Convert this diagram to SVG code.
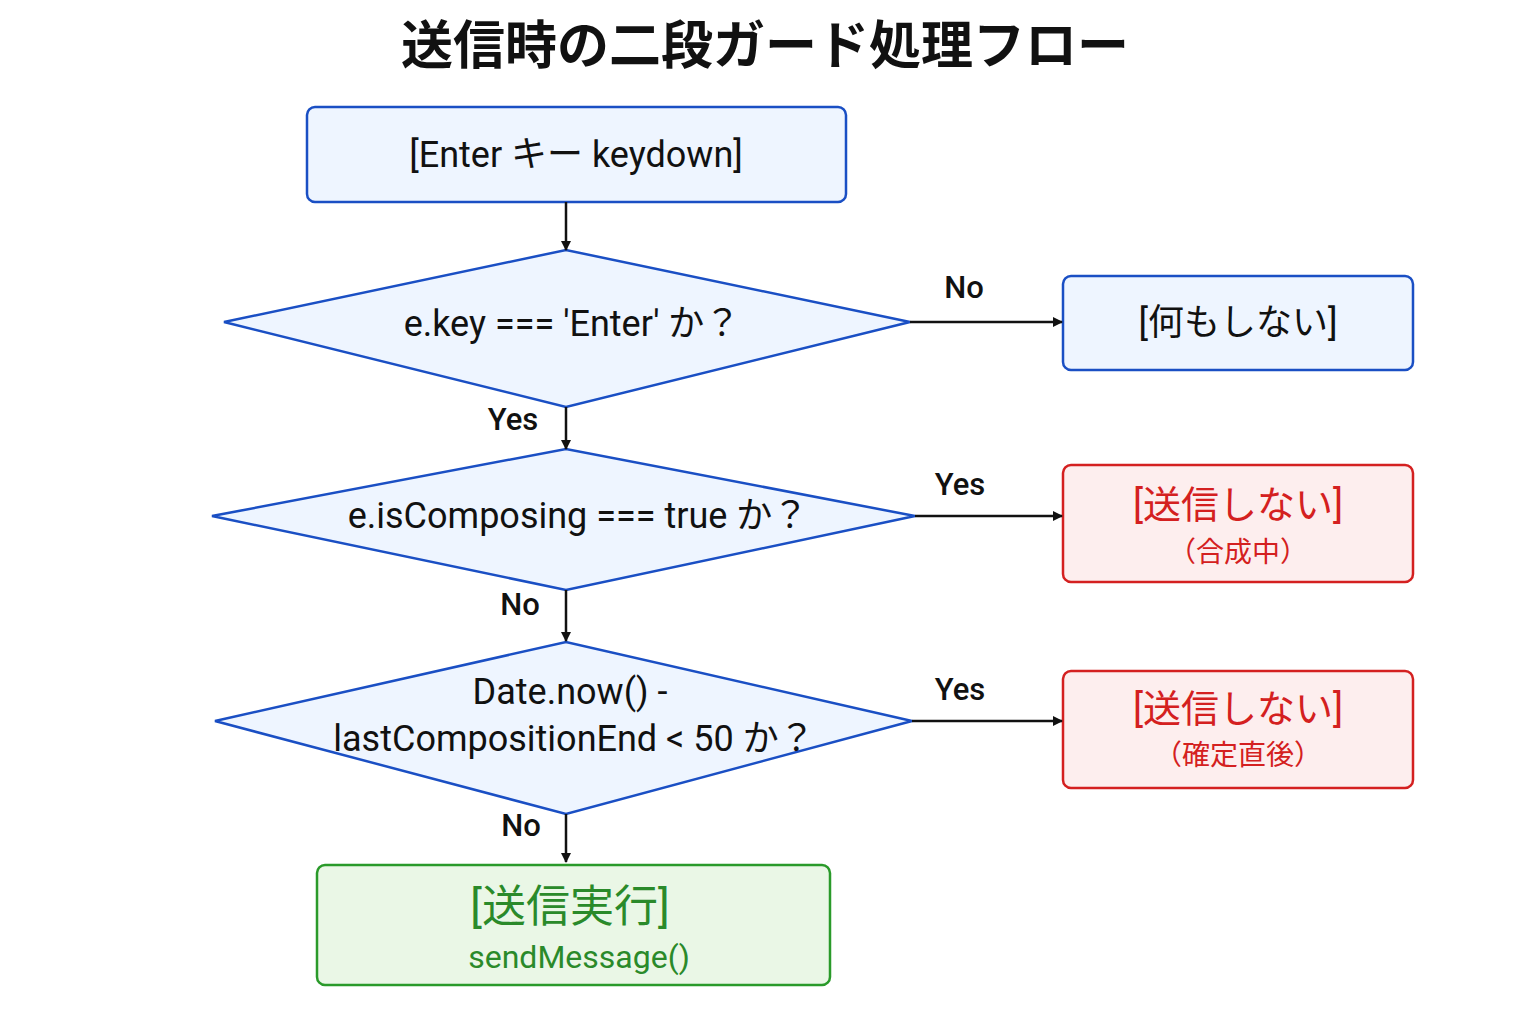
<svg xmlns="http://www.w3.org/2000/svg" width="1536" height="1024" viewBox="0 0 1536 1024">
<defs>
<marker id="arr" markerWidth="10" markerHeight="10" refX="9" refY="5" orient="auto" markerUnits="userSpaceOnUse" viewBox="0 0 10 10"><path d="M0,0 L10,5 L0,10 z" fill="#111"/></marker>
<style>
text{font-family:Roboto,"Noto Sans CJK JP",sans-serif;text-anchor:middle;dominant-baseline:middle}
.blue{fill:#eef5ff;stroke:#1a4fc4;stroke-width:2.5}
.red{fill:#fdeeee;stroke:#d42020;stroke-width:2.5}
.green{fill:#eaf7e6;stroke:#2a9a2a;stroke-width:2.5}
.t{font-size:36px;fill:#111}
.lbl{font-size:31px;fill:#111;font-weight:500}
.c line{stroke:#111;stroke-width:2.5;marker-end:url(#arr)}
</style>
</defs>
<rect width="1536" height="1024" fill="#fff"/>
<text x="765" y="50" font-size="52" font-weight="bold" fill="#111">送信時の二段ガード処理フロー</text>
<g id="start"><rect class="blue" x="307" y="107" width="539" height="95" rx="8"/><text class="t" x="576" y="157" font-size="40">[Enter キー keydown]</text></g>
<g id="d1"><polygon class="blue" points="224,322 566,250 910,322 566,407"/><text class="t" x="572" y="326">e.key === 'Enter' か？</text></g>
<g id="nothing"><rect class="blue" x="1063" y="276" width="350" height="94" rx="8"/><text class="t" x="1238" y="325">[何もしない]</text></g>
<g id="d2"><polygon class="blue" points="212,516 566,449 915,516 566,590"/><text class="t" x="578" y="518">e.isComposing === true か？</text></g>
<g id="r1"><rect class="red" x="1063" y="465" width="350" height="117" rx="8"/><text x="1238" y="508" font-size="38" fill="#d42020">[送信しない]</text><text x="1238" y="555" font-size="28" fill="#d42020">（合成中）</text></g>
<g id="d3"><polygon class="blue" points="215,721 566,642 912,721 566,814"/><text class="t" x="570" y="694">Date.now() -</text><text class="t" x="574" y="741">lastCompositionEnd &lt; 50 か？</text></g>
<g id="r2"><rect class="red" x="1063" y="671" width="350" height="117" rx="8"/><text x="1238" y="712" font-size="38" fill="#d42020">[送信しない]</text><text x="1238" y="758" font-size="28" fill="#d42020">（確定直後）</text></g>
<g id="send"><rect class="green" x="317" y="865" width="513" height="120" rx="8"/><text x="570" y="910" font-size="44" fill="#2a8a2a">[送信実行]</text><text x="579" y="960" font-size="32" fill="#2a8a2a">sendMessage()</text></g>
<g class="c" id="connectors">
<line x1="566" y1="202" x2="566" y2="250"/>
<line x1="910" y1="322" x2="1062" y2="322"/>
<line x1="566" y1="407" x2="566" y2="449"/>
<line x1="915" y1="516" x2="1062" y2="516"/>
<line x1="566" y1="590" x2="566" y2="641"/>
<line x1="912" y1="721" x2="1062" y2="721"/>
<line x1="566" y1="814" x2="566" y2="862"/>
<text class="lbl" x="964" y="290">No</text>
<text class="lbl" x="513" y="422">Yes</text>
<text class="lbl" x="960" y="487">Yes</text>
<text class="lbl" x="520" y="607">No</text>
<text class="lbl" x="960" y="692">Yes</text>
<text class="lbl" x="521" y="828">No</text>
</g>
</svg>
